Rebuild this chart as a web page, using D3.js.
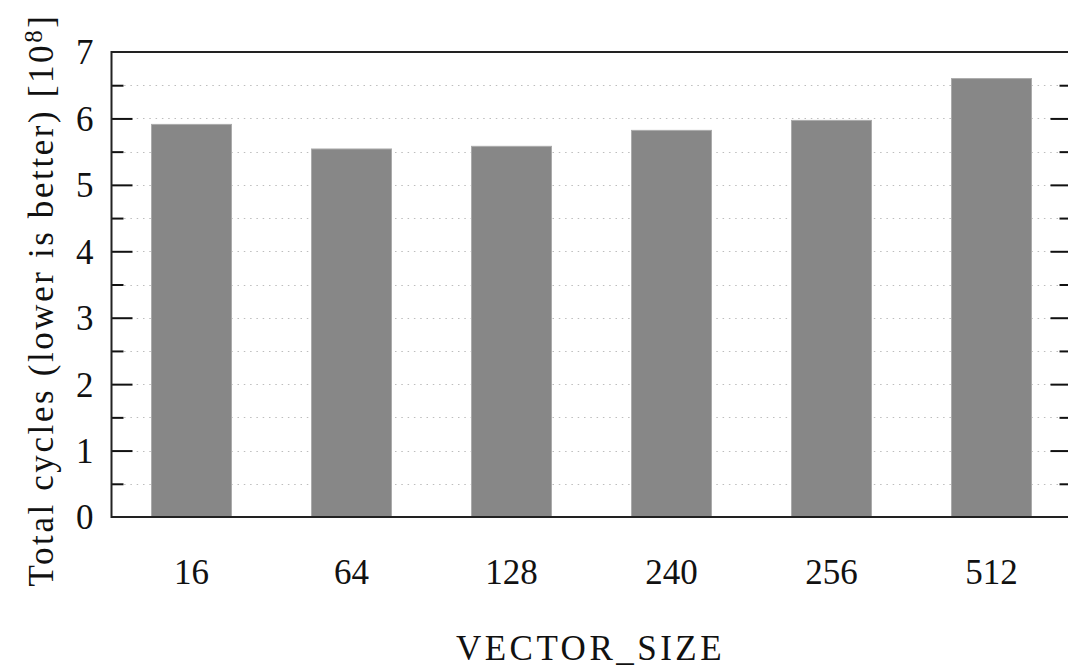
<!DOCTYPE html>
<html>
<head>
<meta charset="utf-8">
<script src="https://cdn.jsdelivr.net/npm/d3@7"></script>
<style>
  body { margin: 0; background: #fff; }
  text { font-family: "Liberation Serif", "DejaVu Serif", serif; fill: #111; }
</style>
</head>
<body>
<div id="chart"></div>
<script>
// values, in units of 10^8 cycles
var categories = ["16", "64", "128", "240", "256", "512"];
var cycles = [5.91, 5.54, 5.58, 5.82, 5.97, 6.60];
var yTicks = [0, 1, 2, 3, 4, 5, 6, 7];
var yMinorTicks = [0.5, 1.5, 2.5, 3.5, 4.5, 5.5, 6.5];

var width = 1068;
var height = 669;
var plotLeft = 111.5, plotRight = 1071.5, plotTop = 52, plotBottom = 517;

var svg = d3.select("#chart")
  .append("svg")
  .attr("width", width)
  .attr("height", height);

var x = d3.scaleBand()
  .domain(categories)
  .range([plotLeft, plotRight])
  .paddingInner(0.5)
  .paddingOuter(0.25);

var y = d3.scaleLinear()
  .domain([0, 7])
  .range([plotBottom, plotTop]);

// dotted grid
svg.append("g")
  .selectAll("line")
  .data(yMinorTicks.concat(yTicks.slice(1, 7)))
  .enter()
  .append("line")
  .attr("x1", plotLeft)
  .attr("x2", plotRight)
  .attr("y1", d => Math.round(y(d)) + 0.5)
  .attr("y2", d => Math.round(y(d)) + 0.5)
  .attr("stroke", "#bdbdbd")
  .attr("stroke-width", 1)
  .attr("stroke-dasharray", "1.5,4.8");

// bars
svg.append("g")
  .selectAll("rect")
  .data(cycles)
  .enter()
  .append("rect")
  .attr("x", (d, i) => x(categories[i]))
  .attr("y", d => y(d))
  .attr("width", x.bandwidth())
  .attr("height", d => y(0) - y(d))
  .attr("fill", "#878787")
  .attr("stroke", "#ababab")
  .attr("stroke-width", 1);

// left axis, ticks pointing inward
var yAxis = d3.axisLeft(y)
  .tickValues(yTicks)
  .tickSize(-21)
  .tickPadding(18)
  .tickFormat(d3.format("d"));

var gy = svg.append("g")
  .attr("transform", "translate(" + plotLeft + ",0)")
  .call(yAxis);
gy.select(".domain").remove();
gy.selectAll(".tick line").attr("stroke", "#111").attr("stroke-width", 2);
gy.selectAll(".tick text")
  .style("font-size", "35px")
  .attr("dy", "0.34em");
gy.selectAll(".tick").filter(d => d === 0 || d === 7).select("line").remove();

var gyMinor = svg.append("g")
  .attr("transform", "translate(" + plotLeft + ",0)")
  .call(d3.axisLeft(y).tickValues(yMinorTicks).tickSize(-12).tickFormat(""));
gyMinor.select(".domain").remove();
gyMinor.selectAll(".tick line").attr("stroke", "#111").attr("stroke-width", 2);

// right axis, ticks pointing inward
var gr = svg.append("g")
  .attr("transform", "translate(" + plotRight + ",0)")
  .call(d3.axisRight(y).tickValues(yTicks.slice(1, 7)).tickSize(-21).tickFormat(""));
gr.select(".domain").remove();
gr.selectAll(".tick line").attr("stroke", "#111").attr("stroke-width", 2);

var grMinor = svg.append("g")
  .attr("transform", "translate(" + plotRight + ",0)")
  .call(d3.axisRight(y).tickValues(yMinorTicks).tickSize(-12).tickFormat(""));
grMinor.select(".domain").remove();
grMinor.selectAll(".tick line").attr("stroke", "#111").attr("stroke-width", 2);

// frame
svg.append("path")
  .attr("d", "M" + plotRight + "," + plotTop + "H" + plotLeft + "V" + plotBottom + "H" + plotRight)
  .attr("fill", "none")
  .attr("stroke", "#222")
  .attr("stroke-width", 2);

// x axis labels
var gx = svg.append("g")
  .attr("transform", "translate(0," + plotBottom + ")")
  .call(d3.axisBottom(x).tickSize(0));
gx.select(".domain").remove();
gx.selectAll(".tick text")
  .style("font-size", "35px")
  .attr("y", 67)
  .attr("dy", 0);

// axis titles
svg.append("text")
  .attr("x", 590.5)
  .attr("y", 660)
  .attr("text-anchor", "middle")
  .style("font-size", "35px")
  .style("letter-spacing", "3.5px")
  .text("VECTOR_SIZE");

var yl = svg.append("text")
  .attr("transform", "translate(53,300) rotate(-90)")
  .attr("text-anchor", "middle")
  .style("font-size", "35px")
  .style("letter-spacing", "2.6px");
yl.append("tspan").text("Total cycles (lower is better) [10");
yl.append("tspan").attr("dy", "-0.45em").style("font-size", "25px").text("8");
yl.append("tspan").attr("dy", "0.32em").text("]");
</script>
</body>
</html>
